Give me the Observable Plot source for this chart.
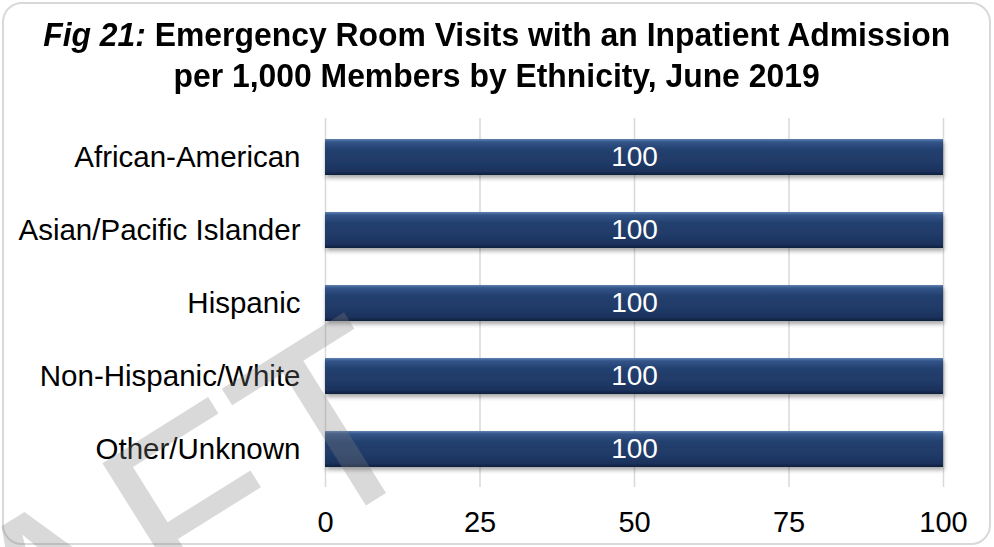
<!DOCTYPE html>
<html>
<head>
<meta charset="utf-8">
<script src="https://cdn.jsdelivr.net/npm/d3@7"></script>
<script src="https://cdn.jsdelivr.net/npm/@observablehq/plot@0.6"></script>
<style>
  html, body { margin: 0; padding: 0; background: #fff; }
  #wrap { position: relative; width: 994px; height: 547px; overflow: hidden; font-family: Arial, "Liberation Sans", sans-serif; }
  #frame { position: absolute; left: 2px; top: 2px; width: 989px; height: 543px; box-sizing: border-box; border: 2px solid #d9d9d9; border-radius: 20px; }
  #title { position: absolute; left: 0; top: 14px; width: 994px; text-align: center; font-weight: bold; font-size: 34px; line-height: 41px; color: #000; }
  #title .line { display: inline-block; white-space: nowrap; transform-origin: 50% 50%; }
  #chart { position: absolute; left: 0; top: 108px; }
  #wm { position: absolute; left: 0; top: 0; pointer-events: none; }
</style>
</head>
<body>
<div id="wrap">
  <div id="frame"></div>
  <div id="title"></div>
  <div id="chart"></div>
  <svg id="wm" width="994" height="547"></svg>
</div>
<script>
const categories = ["African-American", "Asian/Pacific Islander", "Hispanic", "Non-Hispanic/White", "Other/Unknown"];
const values = [100, 100, 100, 100, 100];
const xTicks = [0, 25, 50, 75, 100];
const titlePrefix = "Fig 21:";
const titleLine1 = " Emergency Room Visits with an Inpatient Admission";
const titleLine2 = "per 1,000 Members by Ethnicity, June 2019";
const watermarkText = "DRAFT";

const data = categories.map((c, i) => ({category: c, value: values[i]}));

// Title
const title = document.getElementById("title");
const l1 = document.createElement("span");
l1.className = "line";
const em = document.createElement("i");
em.textContent = titlePrefix;
l1.appendChild(em);
l1.appendChild(document.createTextNode(titleLine1));
const l2 = document.createElement("span");
l2.className = "line";
l2.textContent = titleLine2;
title.appendChild(l1);
title.appendChild(document.createElement("br"));
title.appendChild(l2);

// Gradient / shadow definitions
const defs = () => {
  const d = d3.create("svg:defs");
  const g = d.append("linearGradient").attr("id", "barGrad").attr("x1", 0).attr("y1", 0).attr("x2", 0).attr("y2", 1);
  [[0, "#6282b2"], [0.08, "#34558a"], [0.3, "#23406f"], [0.7, "#1f3966"], [0.9, "#1a315b"], [1, "#0e1d3c"]]
    .forEach(([o, c]) => g.append("stop").attr("offset", o).attr("stop-color", c));
  const f = d.append("filter").attr("id", "barShadow").attr("x", "-5%").attr("y", "-30%").attr("width", "110%").attr("height", "180%");
  f.append("feDropShadow").attr("dx", 1).attr("dy", 3).attr("stdDeviation", 2).attr("flood-color", "#000").attr("flood-opacity", 0.35);
  return d.node();
};

const chart = Plot.plot({
  width: 994,
  height: 439,
  marginLeft: 325,
  marginRight: 51,
  marginTop: 10,
  marginBottom: 60,
  style: {fontFamily: "Arial, 'Liberation Sans', sans-serif", fontSize: "29px", color: "#000", background: "transparent", overflow: "visible"},
  x: {domain: [0, 100], ticks: xTicks, label: null, tickSize: 0, tickPadding: 24},
  y: {domain: categories, label: null, tickSize: 0, tickPadding: 25, paddingInner: 0.51, paddingOuter: 0.255},
  marks: [
    defs,
    Plot.ruleX(xTicks, {stroke: "#d9d9d9", strokeWidth: 1.5}),
    Plot.barX(data, {x: "value", y: "category", fill: "url(#barGrad)"}),
    Plot.text(data, {x: d => d.value / 2, y: "category", text: d => String(d.value), fill: "white", fontSize: 28})
  ]
});
document.getElementById("chart").appendChild(chart);
chart.querySelectorAll('g[aria-label="bar"] rect').forEach(r => r.setAttribute("filter", "url(#barShadow)"));
chart.querySelectorAll('g[aria-label="y-axis tick label"] text').forEach(t => t.setAttribute("font-size", "29.5"));

// Fit title lines horizontally like the reference
const target = 907;
const w1 = l1.getBoundingClientRect().width;
const k = target / w1;
l1.style.transform = `scaleX(${k})`;
l2.style.transform = `scaleX(${k})`;

// Watermark
const wm = d3.select("#wm");
const px = 442, py = 458, ang = -32;
wm.append("text")
  .attr("x", px).attr("y", py)
  .attr("text-anchor", "end")
  .attr("transform", `rotate(${ang},${px},${py})`)
  .attr("font-family", "Arial, 'Liberation Sans', sans-serif")
  .attr("font-size", 255)
  .attr("fill", "rgb(128,128,128)")
  .attr("fill-opacity", 0.3)
  .text(watermarkText);
</script>
</body>
</html>
